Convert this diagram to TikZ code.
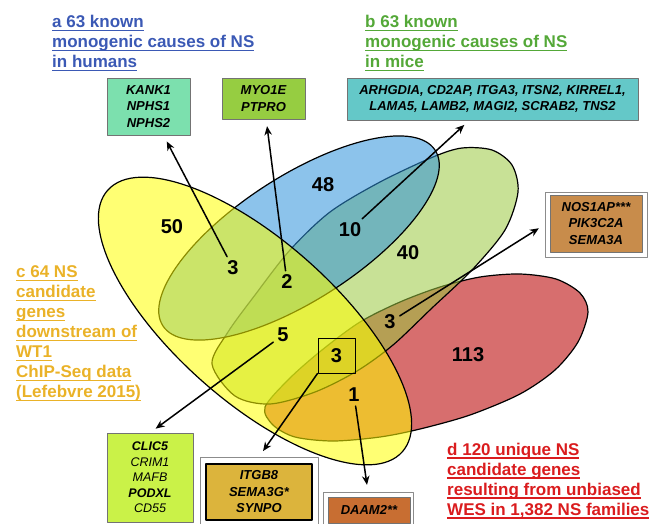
\documentclass[tikz,border=0pt]{standalone}
\usepackage{fontspec}
\setmainfont{Liberation Sans}
\usetikzlibrary{arrows.meta}
\definecolor{seta}{RGB}{46,146,219}
\definecolor{setb}{RGB}{155,200,64}
\definecolor{setc}{RGB}{255,255,0}
\definecolor{setd}{RGB}{198,48,48}
\definecolor{laba}{RGB}{59,89,181}
\definecolor{labb}{RGB}{84,168,56}
\definecolor{labc}{RGB}{234,178,40}
\definecolor{labd}{RGB}{218,28,30}
\definecolor{boxac}{RGB}{124,224,174}
\definecolor{boxabc}{RGB}{150,205,65}
\definecolor{boxab}{RGB}{100,200,200}
\definecolor{boxbd}{RGB}{200,140,75}
\definecolor{boxbc}{RGB}{202,242,72}
\definecolor{boxbcd}{RGB}{220,180,60}
\definecolor{boxcd}{RGB}{200,110,50}
\newcommand\undl[1]{\sbox0{#1}\rlap{\rule[-3.6pt]{\wd0}{1.3pt}}\usebox0}
\begin{document}
\begin{tikzpicture}[x=1pt,y=-1pt,line join=round,line cap=round,>={Stealth[length=9pt,width=7.5pt]},
	lab/.style={font=\bfseries\fontsize{17}{20}\selectfont,align=left,anchor=north west,inner sep=0pt},
	num/.style={font=\bfseries\fontsize{20}{24}\selectfont,inner sep=4pt},
	gene/.style={draw=black!55,font=\bfseries\itshape\fontsize{13}{16.5}\selectfont,align=center,inner sep=0pt},
	wrap/.style={draw=black!45,fill=white,inner sep=0pt},
	arr/.style={->,line width=1.5pt,shorten >=7pt},
	set/.style={draw=black,line width=1.2pt}]
		\useasboundingbox (0,0) rectangle (655,523);
		\draw[set,fill=setd,fill opacity=.7] plot[smooth cycle] coordinates {(265,407) (290,378) (322,350) (360,322) (400,302) (440,287) (480,277) (520,274) (556,279) (580,293) (588,312) (578,342) (555,370) (520,394) (470,415) (420,429) (380,437) (333,441) (295,437) (273,425)};
		\draw[set,fill=setb,fill opacity=.55] plot[smooth cycle] coordinates {(212,364) (228,332) (255,295) (290,250) (330,212) (380,182) (433,157) (462,148) (492,150) (512,165) (518,192) (505,230) (472,270) (432,308) (393,345) (357,371) (315,392) (270,404) (235,396)};
		\draw[set,fill=seta,fill opacity=.55,rotate around={32.8:(299,238)}] (299,238) ellipse [x radius=162,y radius=62];
		\draw[set,fill=setc,fill opacity=.55,rotate around={-41.6:(255,321)}] (255,321) ellipse [x radius=197,y radius=80];
		\foreach \n/\p/\t in {nc/{172,227}/50,nac/{233,268}/3,nabc/{287,282}/2,na/{323,185}/48,nab/{350,230}/10,nb/{408,253}/40,nbc/{283,335}/5,nbd/{390,322}/3,nd/{468,355}/113,ncd/{354,395}/1}
		\node[num] (\n) at (\p) {\t};
		\node[num,draw,line width=1pt,minimum width=37pt,minimum height=35pt] (nbcd) at (336.5,355.5) {3};
		\node[lab,text=laba] (laba) at (52,14.7) {\undl{a 63 known}\\\undl{monogenic causes of NS}\\\undl{in humans}};
		\node[lab,text=labb] (labb) at (365,14.7) {\undl{b 63 known}\\\undl{monogenic causes of NS}\\\undl{in mice}};
		\node[lab,text=labc] (labc) at (16,265.7) {\undl{c 64 NS}\\\undl{candidate}\\\undl{genes}\\\undl{downstream of}\\\undl{WT1}\\\undl{ChIP-Seq data}\\\undl{(Lefebvre 2015)}};
		\node[lab,text=labd] (labd) at (447,442.6) {\undl{d 120 unique NS}\\\undl{candidate genes}\\\undl{resulting from unbiased}\\\undl{WES in 1,382 NS families}};
		\node[gene,fill=boxac,minimum width=83pt,minimum height=57pt] (kank) at (148.5,106.5) {KANK1\\NPHS1\\NPHS2};
		\node[gene,fill=boxabc,minimum width=83pt,minimum height=41pt] (myo) at (263.5,98.5) {MYO1E\\PTPRO};
		\node[gene,fill=boxab,minimum width=291pt,minimum height=42pt] (arh) at (492.5,99) {ARHGDIA, CD2AP, ITGA3, ITSN2, KIRREL1,\\LAMA5, LAMB2, MAGI2, SCRAB2, TNS2};
		\node[wrap,minimum width=102pt,minimum height=65pt] (nosw) at (596,224.5) {};
		\node[gene,fill=boxbd,minimum width=92pt,minimum height=57pt] (nos) at (596,223.5) {NOS1AP***\\PIK3C2A\\SEMA3A};
		\node[gene,fill=boxbc,font=\itshape\fontsize{12.5}{15.5}\selectfont,minimum width=86pt,minimum height=89pt] (clic) at (150,477.5) {\textbf{CLIC5}\\CRIM1\\MAFB\\\textbf{PODXL}\\CD55};
		\node[wrap,minimum width=118pt,minimum height=71pt] (itgw) at (259,492.5) {};
		\node[gene,draw=black,line width=2.5pt,fill=boxbcd,minimum width=106pt,minimum height=56pt] (itg) at (259,492) {ITGB8\\SEMA3G*\\SYNPO};
		\node[wrap,minimum width=90pt,minimum height=36pt] (daamw) at (368,510) {};
		\node[gene,fill=boxcd,minimum width=82pt,minimum height=26pt] (daam) at (369,510) {DAAM2**};
		\draw[arr] (nac)--(kank);
		\draw[arr] (nabc)--(myo);
		\draw[arr] (nab)--(arh);
		\draw[arr] (nbd)--(nosw.west);
		\draw[arr] (nbc)--(clic.north);
		\draw[arr] (nbcd.south west)--(itgw.north);
		\draw[arr] (ncd)--(daamw.north);
\end{tikzpicture}
\end{document}
